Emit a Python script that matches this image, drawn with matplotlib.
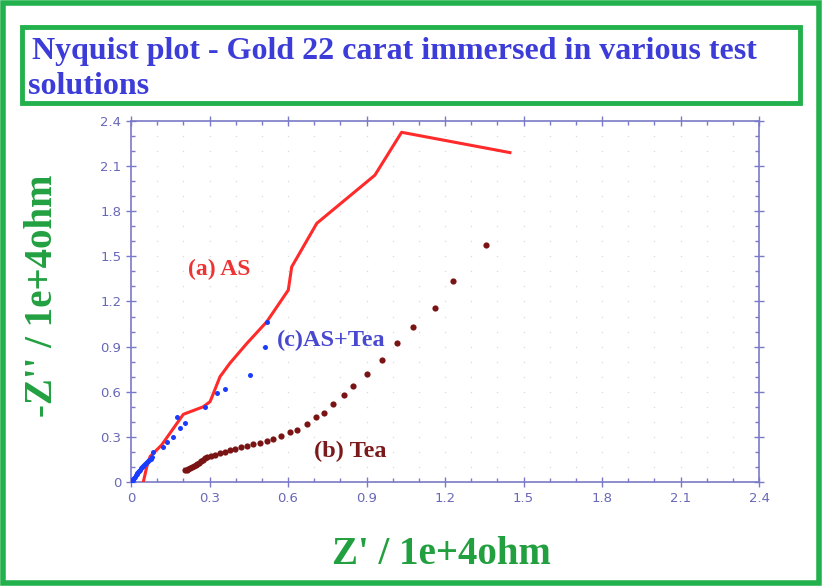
import numpy as np
import matplotlib
matplotlib.use("Agg")
import matplotlib.pyplot as plt
from matplotlib.patches import Rectangle

# (a) AS - red line
as_x = [0.047, 0.060, 0.073, 0.117, 0.200, 0.276, 0.302, 0.315, 0.340, 0.378, 0.442,
        0.519, 0.601, 0.614, 0.710, 0.932, 1.034, 1.448]
as_y = [0.000, 0.100, 0.170, 0.246, 0.450, 0.500, 0.534, 0.590, 0.700, 0.790, 0.920,
        1.066, 1.276, 1.430, 1.720, 2.040, 2.325, 2.190]

# (b) Tea - maroon points
tea_x = [0.205, 0.212, 0.219, 0.226, 0.233, 0.240, 0.247, 0.254, 0.261, 0.268, 0.275,
         0.283, 0.292, 0.305, 0.321, 0.340, 0.359, 0.378, 0.397, 0.420, 0.442, 0.467,
         0.493, 0.518, 0.544, 0.575, 0.608, 0.633, 0.674, 0.707, 0.738, 0.773, 0.815,
         0.847, 0.900, 0.958, 1.015, 1.079, 1.162, 1.232, 1.357]
tea_y = [0.080, 0.082, 0.086, 0.091, 0.097, 0.104, 0.112, 0.120, 0.128, 0.137, 0.146,
         0.157, 0.168, 0.175, 0.182, 0.192, 0.200, 0.210, 0.222, 0.230, 0.239, 0.250,
         0.261, 0.272, 0.284, 0.305, 0.334, 0.346, 0.385, 0.434, 0.460, 0.518, 0.578,
         0.640, 0.720, 0.810, 0.922, 1.030, 1.160, 1.336, 1.577]

# (c) AS+Tea - blue points
mix_x = [0.003, 0.006, 0.009, 0.012, 0.015, 0.018, 0.021, 0.024, 0.027, 0.030, 0.034,
         0.038, 0.042, 0.046, 0.050, 0.054, 0.058, 0.062, 0.066, 0.070, 0.075, 0.080,
         0.085, 0.124, 0.136, 0.162, 0.175, 0.187, 0.206, 0.283, 0.327, 0.359, 0.455,
         0.512, 0.519]
mix_y = [0.005, 0.012, 0.020, 0.028, 0.036, 0.044, 0.052, 0.060, 0.067, 0.074, 0.082,
         0.090, 0.097, 0.104, 0.111, 0.118, 0.125, 0.132, 0.139, 0.146, 0.155, 0.165,
         0.200, 0.235, 0.268, 0.300, 0.434, 0.357, 0.390, 0.500, 0.590, 0.620, 0.710,
         0.900, 1.066]

ticks = [0, 0.3, 0.6, 0.9, 1.2, 1.5, 1.8, 2.1, 2.4]
tick_labels = ["0", "0.3", "0.6", "0.9", "1.2", "1.5", "1.8", "2.1", "2.4"]

green = "#22b14c"
axis_col = "#7a7ac8"
serif = ["Liberation Serif", "DejaVu Serif"]

fig = plt.figure(figsize=(8.22, 5.86), dpi=100)
fig.patch.set_facecolor("white")

# outer frame and title box
fig.patches.append(Rectangle((0.004, 0.005), 0.992, 0.99, transform=fig.transFigure,
                             fill=False, edgecolor=green, linewidth=4))
fig.patches.append(Rectangle((0.027, 0.824), 0.946, 0.13, transform=fig.transFigure,
                             fill=False, edgecolor=green, linewidth=3.5))
fig.text(0.039, 0.912, "Nyquist plot - Gold 22 carat immersed in various test",
         family=serif, fontweight="bold", fontsize=23, color="#3c3cd8", va="center")
fig.text(0.034, 0.853, "solutions", family=serif, fontweight="bold", fontsize=23,
         color="#3c3cd8", va="center")

ax = fig.add_axes([0.1594, 0.1775, 0.764, 0.616])

# dot lattice grid
gx, gy = np.meshgrid(np.arange(0.1, 2.4, 0.1), np.arange(0.1, 2.4, 0.1))
ax.scatter(gx.ravel(), gy.ravel(), s=1.2, color="#dcdcdc", zorder=0, linewidths=0)

ax.plot(as_x, as_y, color="#ff2a2a", linewidth=2.2, zorder=3)
ax.scatter(tea_x, tea_y, s=20, color="#7a1414", zorder=4, linewidths=0)
ax.scatter(mix_x, mix_y, s=13, color="#1a3cff", zorder=5, linewidths=0)

ax.set_xlim(0, 2.4)
ax.set_ylim(0, 2.4)
ax.set_xticks(ticks)
ax.set_xticklabels(tick_labels)
ax.set_yticks(ticks)
ax.set_yticklabels(tick_labels)
ax.set_xticks(np.arange(0, 2.41, 0.1), minor=True)
ax.set_yticks(np.arange(0, 2.41, 0.1), minor=True)
ax.tick_params(which="major", direction="inout", length=7, width=1, color=axis_col,
               labelcolor="#6868b8", labelsize=9.5, top=True, right=True)
ax.tick_params(which="minor", direction="in", length=3, width=1, color=axis_col,
               top=True, right=True)
for sp in ax.spines.values():
    sp.set_color(axis_col)
    sp.set_linewidth(1.2)

ax.text(0.336, 1.41, "(a) AS", family=serif, fontweight="bold", fontsize=17,
        color="#ee3333", ha="center", va="center")
ax.text(0.764, 0.944, "(c)AS+Tea", family=serif, fontweight="bold", fontsize=17.5,
        color="#4848d0", ha="center", va="center")
ax.text(0.837, 0.20, "(b) Tea", family=serif, fontweight="bold", fontsize=17.5,
        color="#7a1a1a", ha="center", va="center")

# axis titles placed in figure pixels
fig.text(441 / 822, 1 - 555 / 586, "Z' / 1e+4ohm", family=serif, fontweight="bold",
         fontsize=28, color="#22a040", ha="center", va="center")
fig.text(42 / 822, 1 - 296 / 586, "-Z'' / 1e+4ohm", family=serif, fontweight="bold",
         fontsize=28, color="#22a040", ha="center", va="center", rotation=90)

fig.savefig("out.png", dpi=100)
